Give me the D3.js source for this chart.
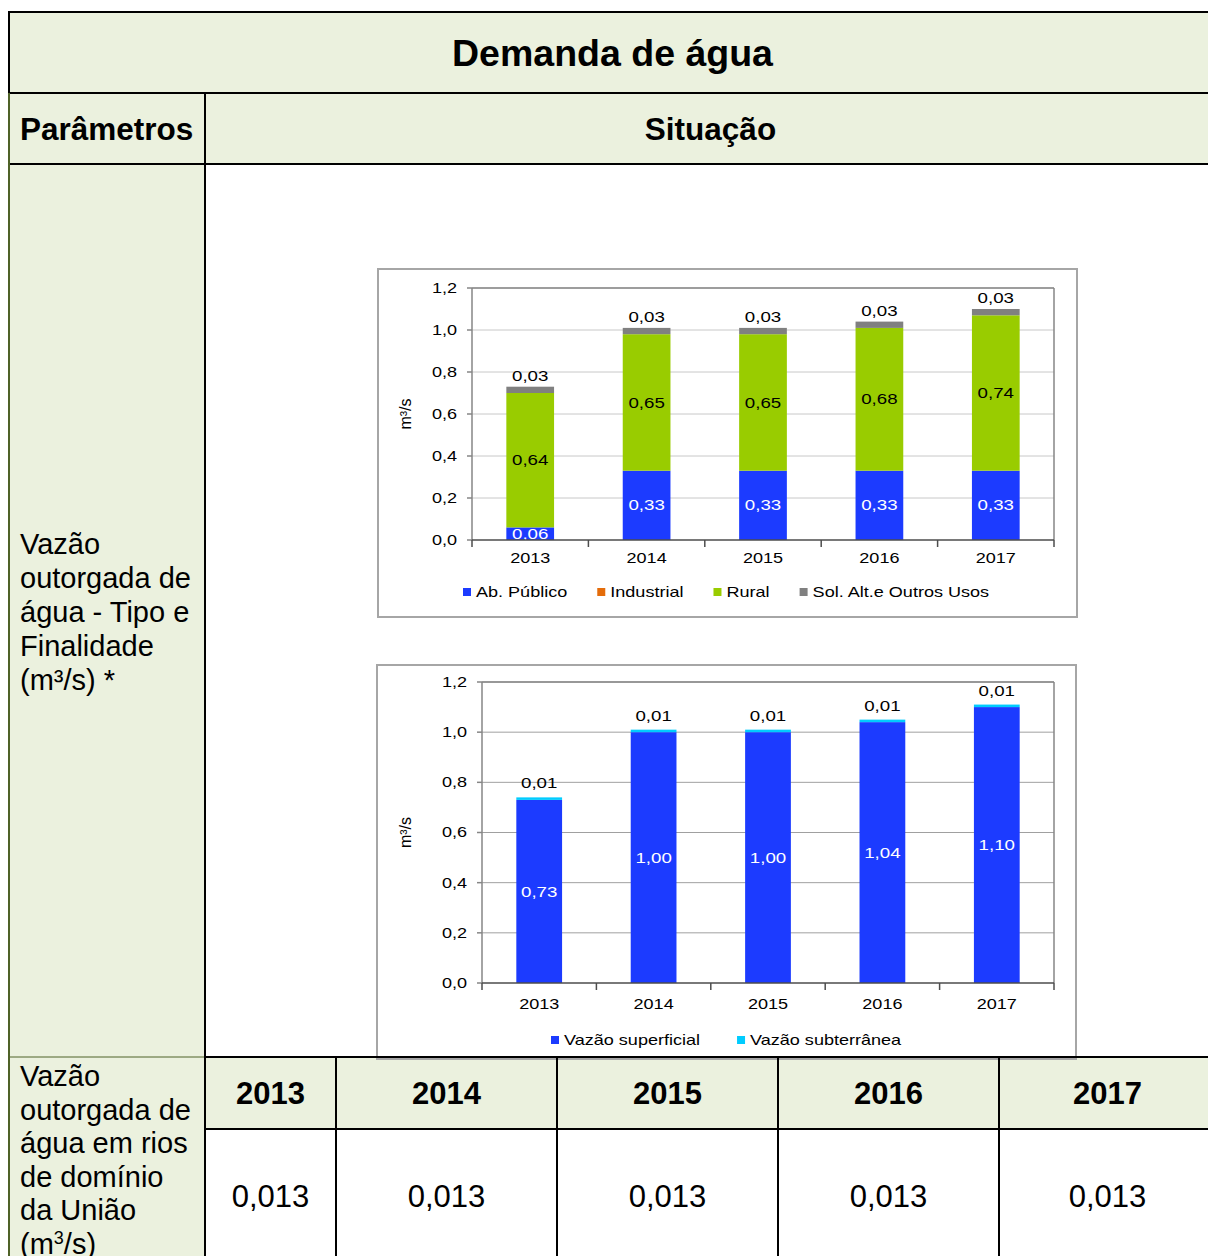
<!DOCTYPE html>
<html>
<head>
<meta charset="utf-8">
<script src="https://cdn.jsdelivr.net/npm/d3@7"></script>
<style>
  body { margin: 0; background: #fff; }
  svg { display: block; font-family: Arial, "Liberation Sans", sans-serif; }
</style>
</head>
<body>
<div id="page"></div>
<script>
// ---- data ----
var years = ["2013", "2014", "2015", "2016", "2017"];
var abPublico = [0.06, 0.33, 0.33, 0.33, 0.33];
var industrial = [0, 0, 0, 0, 0];
var rural = [0.64, 0.65, 0.65, 0.68, 0.74];
var solAlt = [0.03, 0.03, 0.03, 0.03, 0.03];
var superficial = [0.73, 1.00, 1.00, 1.04, 1.10];
var subterranea = [0.01, 0.01, 0.01, 0.01, 0.01];
var yTicks = [0, 0.2, 0.4, 0.6, 0.8, 1.0, 1.2];
var uniao = [0.013, 0.013, 0.013, 0.013, 0.013];
var usoNames = ["Ab. Público", "Industrial", "Rural", "Sol. Alt.e Outros Usos"];
var vazaoNames = ["Vazão superficial", "Vazão subterrânea"];

var ptBR = d3.formatLocale({decimal: ",", thousands: ".", grouping: [3], currency: ["R$", ""]});
var f1 = ptBR.format(".1f"), f2 = ptBR.format(".2f"), f3 = ptBR.format(".3f");

var W = 1208, H = 1256;
var svg = d3.select("#page").append("svg")
  .attr("width", W).attr("height", H)
  .attr("viewBox", "0 0 " + W + " " + H);

var bg = "#ebf1de", olive = "#4f6228";
var L = 9, R = 1216;

// ---- table backgrounds ----
svg.append("rect").attr("x", L).attr("y", 12).attr("width", R - L).attr("height", 152).attr("fill", bg);
svg.append("rect").attr("x", L).attr("y", 164).attr("width", 205 - L).attr("height", H - 164).attr("fill", bg);
svg.append("rect").attr("x", 205).attr("y", 1057).attr("width", R - 205).attr("height", 72).attr("fill", bg);

// ---- header texts ----
svg.append("text").attr("x", (L + R) / 2).attr("y", 53).attr("dy", "0.35em")
  .attr("text-anchor", "middle").style("font-size", "37.5px").style("font-weight", "bold")
  .text("Demanda de água");
svg.append("text").attr("x", 20).attr("y", 129).attr("dy", "0.35em")
  .style("font-size", "31.5px").style("font-weight", "bold").text("Parâmetros");
svg.append("text").attr("x", (205 + R) / 2).attr("y", 129).attr("dy", "0.35em")
  .attr("text-anchor", "middle").style("font-size", "31.5px").style("font-weight", "bold")
  .text("Situação");

// left column labels
var lab1 = ["Vazão", "outorgada de", "água - Tipo e", "Finalidade", "(m³/s) *"];
lab1.forEach(function(t, i) {
  svg.append("text").attr("x", 20).attr("y", 544 + i * 34).attr("dy", "0.35em")
    .style("font-size", "29px").text(t);
});
var lab2 = ["Vazão", "outorgada de", "água em rios", "de domínio", "da União"];
lab2.forEach(function(t, i) {
  svg.append("text").attr("x", 20).attr("y", 1076 + i * 33.5).attr("dy", "0.35em")
    .style("font-size", "29px").text(t);
});
// last line runs past the bottom edge, as in the source
var last = svg.append("text").attr("x", 20).attr("y", 1076 + 5 * 33.5).attr("dy", "0.35em")
  .style("font-size", "29px");
last.append("tspan").text("(m");
last.append("tspan").attr("baseline-shift", "super").style("font-size", "18px").text("3");
last.append("tspan").text("/s)");

// bottom year table
var colEdges = [205, 336, 557, 778, 999, R];
years.forEach(function(y, i) {
  var cx = (colEdges[i] + colEdges[i + 1]) / 2;
  svg.append("text").attr("x", cx).attr("y", 1093).attr("dy", "0.35em")
    .attr("text-anchor", "middle").style("font-size", "31px").style("font-weight", "bold").text(y);
  svg.append("text").attr("x", cx).attr("y", 1196).attr("dy", "0.35em")
    .attr("text-anchor", "middle").style("font-size", "31px").text(f3(uniao[i]));
});

// ---- charts ----
var SX = 1.29; // chart text is stretched horizontally in the source
function stext(g, x, y, str, anchor, color, size) {
  return g.append("text")
    .attr("transform", "translate(" + x + "," + y + ") scale(" + SX + ",1)")
    .attr("text-anchor", anchor || "middle")
    .attr("dy", "0.35em")
    .style("font-size", (size || 14) + "px")
    .attr("fill", color || "#000")
    .text(str);
}

function drawChart(o) {
  var g = svg.append("g");
  g.append("rect").attr("x", o.box[0]).attr("y", o.box[1])
    .attr("width", o.box[2]).attr("height", o.box[3])
    .attr("fill", "#fff").attr("stroke", "#a6a6a6").attr("stroke-width", 2);

  var x = d3.scaleBand().domain(years).range([o.x0, o.x1])
    .paddingInner(o.pad).paddingOuter(o.pad / 2);
  var y = d3.scaleLinear().domain([0, 1.2]).range([o.y0, o.yTop]);

  // gridlines
  g.selectAll(".grid").data(yTicks.slice(1)).enter().append("line")
    .attr("x1", o.x0).attr("x2", o.x1)
    .attr("y1", function(d) { return y(d); }).attr("y2", function(d) { return y(d); })
    .attr("stroke", o.gridColor).attr("stroke-width", 1);
  // plot frame top / right
  g.append("line").attr("x1", o.x0).attr("x2", o.x1).attr("y1", y(1.2)).attr("y2", y(1.2))
    .attr("stroke", "#868686").attr("stroke-width", 1.5);
  g.append("line").attr("x1", o.x1).attr("x2", o.x1).attr("y1", y(1.2)).attr("y2", y(0))
    .attr("stroke", "#868686").attr("stroke-width", 1.5);

  // stacked bars
  var rows = years.map(function(yr, i) {
    var r = {year: yr};
    o.keys.forEach(function(k, j) { r[k] = o.series[j][i]; });
    return r;
  });
  var stacked = d3.stack().keys(o.keys)(rows);
  g.selectAll(".layer").data(stacked).enter().append("g")
    .attr("fill", function(d, i) { return o.colors[i]; })
    .selectAll("rect").data(function(d) { return d; }).enter().append("rect")
    .attr("x", function(d) { return x(d.data.year); })
    .attr("width", x.bandwidth())
    .attr("y", function(d) { return y(d[1]); })
    .attr("height", function(d) { return y(d[0]) - y(d[1]); });

  // data labels
  stacked.forEach(function(layer, li) {
    var mode = o.labelMode[li];
    if (!mode) return;
    layer.forEach(function(d) {
      var v = d[1] - d[0];
      var cx = x(d.data.year) + x.bandwidth() / 2;
      if (mode === "above") {
        stext(g, cx, y(d[1]) - o.aboveOff, f2(v), "middle", "#000", 14.5);
      } else {
        stext(g, cx, y((d[0] + d[1]) / 2), f2(v), "middle", mode, 14.5);
      }
    });
  });

  // y axis
  g.append("line").attr("x1", o.x0).attr("x2", o.x0).attr("y1", y(1.2)).attr("y2", y(0))
    .attr("stroke", "#868686").attr("stroke-width", 1.5);
  yTicks.forEach(function(t) {
    g.append("line").attr("x1", o.x0 - 5).attr("x2", o.x0).attr("y1", y(t)).attr("y2", y(t))
      .attr("stroke", "#868686").attr("stroke-width", 1.5);
    stext(g, o.x0 - 15, y(t), f1(t), "end");
  });
  // x axis
  g.append("line").attr("x1", o.x0).attr("x2", o.x1).attr("y1", y(0)).attr("y2", y(0))
    .attr("stroke", "#4d4d4d").attr("stroke-width", 1.5);
  var step = x.step();
  d3.range(years.length + 1).forEach(function(i) {
    var bx = o.x0 + i * step;
    g.append("line").attr("x1", bx).attr("x2", bx).attr("y1", y(0)).attr("y2", y(0) + 7)
      .attr("stroke", "#4d4d4d").attr("stroke-width", 1.5);
  });
  years.forEach(function(yr) {
    stext(g, x(yr) + x.bandwidth() / 2, y(0) + o.xLabOff, yr, "middle");
  });

  // y title
  g.append("text")
    .attr("transform", "translate(" + o.yTitleX + "," + (y(0) + y(1.2)) / 2 + ") rotate(-90)")
    .attr("text-anchor", "middle").attr("dy", "0.35em")
    .style("font-size", "16px").text("m³/s");

  // legend
  var lx = o.legendX;
  o.names.forEach(function(n, i) {
    g.append("rect").attr("x", lx).attr("y", o.legendY - 4).attr("width", 8).attr("height", 8)
      .attr("fill", o.colors[i]);
    var t = stext(g, lx + 13, o.legendY, n, "start");
    lx += 13 + t.node().getComputedTextLength() * SX + o.legendGap;
  });
}

drawChart({
  box: [378, 269, 699, 348],
  x0: 472, x1: 1054, y0: 540, yTop: 288, pad: 0.59,
  keys: ["ab", "ind", "rur", "sol"],
  series: [abPublico, industrial, rural, solAlt],
  colors: ["#1c3bff", "#e46c0a", "#99cc00", "#808080"],
  names: usoNames,
  labelMode: ["#fff", null, "#000", "above"],
  aboveOff: 11,
  gridColor: "#c8c8c8",
  xLabOff: 18,
  yTitleX: 405,
  legendX: 463, legendY: 592, legendGap: 30
});

drawChart({
  box: [377, 665, 699, 394],
  x0: 482, x1: 1054, y0: 983, yTop: 682, pad: 0.6,
  keys: ["sup", "sub"],
  series: [superficial, subterranea],
  colors: ["#1c3bff", "#00ccff"],
  names: vazaoNames,
  labelMode: ["#fff", "above"],
  aboveOff: 14,
  gridColor: "#a0a0a0",
  xLabOff: 21,
  yTitleX: 405,
  legendX: 551, legendY: 1040, legendGap: 37
});

// ---- table lines ----
function hl(x1, x2, yy, c, w) {
  svg.append("line").attr("x1", x1).attr("x2", x2).attr("y1", yy).attr("y2", yy)
    .attr("stroke", c || "#000").attr("stroke-width", w || 2);
}
function vl(xx, y1, y2, c, w) {
  svg.append("line").attr("x1", xx).attr("x2", xx).attr("y1", y1).attr("y2", y2)
    .attr("stroke", c || "#000").attr("stroke-width", w || 2);
}
hl(L - 1, R, 12);
hl(L, R, 93);
hl(L, R, 164);
hl(L, 205, 1057, olive, 1);
hl(205, R, 1057);
hl(205, R, 1129);
vl(L, 12, 93);
vl(L, 93, H, olive, 2);
vl(205, 93, H);
colEdges.slice(1).forEach(function(cx) { vl(cx, 1057, H); });
</script>
</body>
</html>
